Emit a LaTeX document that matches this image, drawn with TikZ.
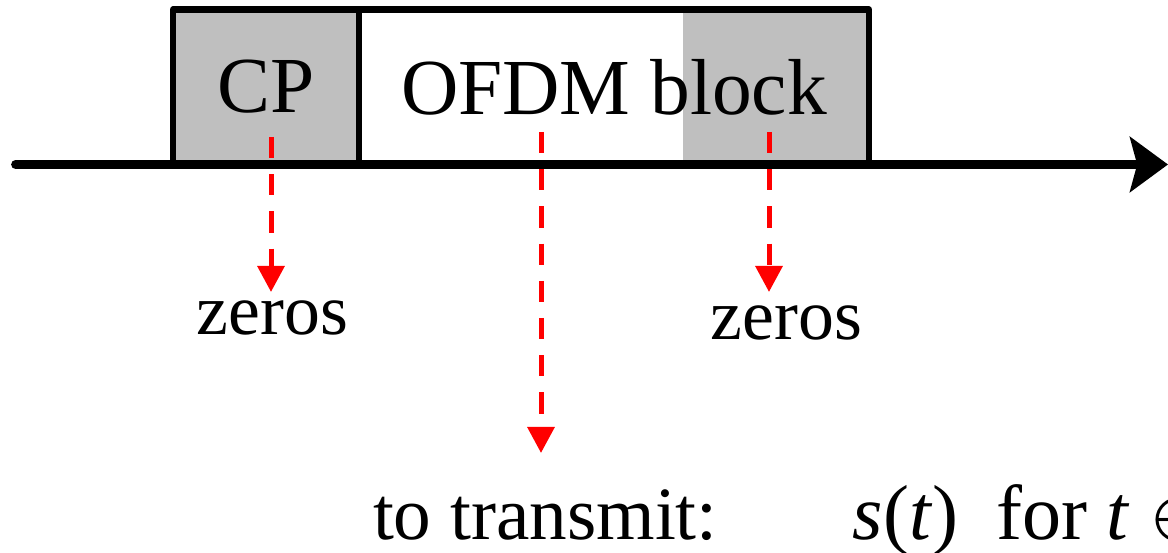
\documentclass[tikz,border=0pt]{standalone}
\usepackage{fix-cm}
\usepackage{fontspec}
\setmainfont{Liberation Serif}
\usepackage{tikz}
\usetikzlibrary{arrows.meta,positioning}

\definecolor{cpgray}{RGB}{191,191,191}

\tikzset{
    seg/.style={minimum height=3.875cm, inner sep=0pt, outer sep=0pt, anchor=south west},
    zerofill/.style={draw=red, line width=0.125cm, dash pattern=on 0.53cm off 0.4cm,
        -{Triangle[length=0.65cm, width=0.66cm]}},
    lbl/.style={font=\fontsize{56.5}{68}\selectfont, inner sep=0pt, outer sep=0pt},
    zlbl/.style={font=\fontsize{51}{61}\selectfont, inner sep=0pt, outer sep=0pt},
    txlbl/.style={font=\fontsize{53.5}{64}\selectfont, inner sep=0pt, outer sep=0pt},
}

\begin{document}
\begin{tikzpicture}
    \useasboundingbox (0,0) rectangle (29.2,13.825);
    \clip (0,0) rectangle (29.2,13.825);

    % CP and OFDM block sitting on the time axis
    \node[seg, fill=cpgray, minimum width=4.65cm] (cp) at (4.325,9.7125) {};
    \node[seg, fill=white, minimum width=12.75cm] (blk) at (cp.south east) {};
    \fill[cpgray] ([xshift=-4.65cm]blk.north east) rectangle (blk.south east);
    \node[lbl] (cptext) at (cp) {CP};
    \node[lbl] (blktext) at (blk) {OFDM block};

    % Box outline (bottom is the axis)
    \draw[line width=0.16cm, line join=round] (cp.south west) |- (blk.north east) -- (blk.south east);
    \draw[line width=0.16cm] (cp.north east) -- (cp.south east);

    % Labels below the axis
    \node[zlbl, anchor=base] (zero1) at (6.8125,5.45) {zeros};
    \node[zlbl, anchor=base] (zero2) at (19.6625,5.325) {zeros};
    \node[txlbl, anchor=base west] (tx) at (9.325,0.325) {to transmit:};
    \node[txlbl, font=\fontsize{55.5}{66}\selectfont, base right=3.375cm of tx] (sig)
        {\textit{s}(\textit{t})\hspace{13pt} for \textit{t} $\in$};

    % Dashed red arrows
    \coordinate (cpTop) at (6.775,10.4);
    \coordinate (cpTip) at (6.775,6.525);
    \coordinate (midTop) at (13.525,10.525);
    \coordinate (midTip) at (13.525,2.5);
    \coordinate (tailTop) at (19.225,10.525);
    \coordinate (tailTip) at (19.225,6.525);
    \draw[zerofill] (cpTop) -- (cpTip);
    \draw[zerofill] (midTop) -- (midTip);
    \draw[zerofill] (tailTop) -- (tailTip);

    % Time axis
    \coordinate (axStart) at (0.39,9.7125);
    \coordinate (axEnd) at (29.2,9.7125);
    \draw[line width=0.225cm, line cap=round,
        -{Stealth[length=0.95cm, width=1.375cm, inset=0.18cm]}] (axStart) -- (axEnd);

\end{tikzpicture}
\end{document}
